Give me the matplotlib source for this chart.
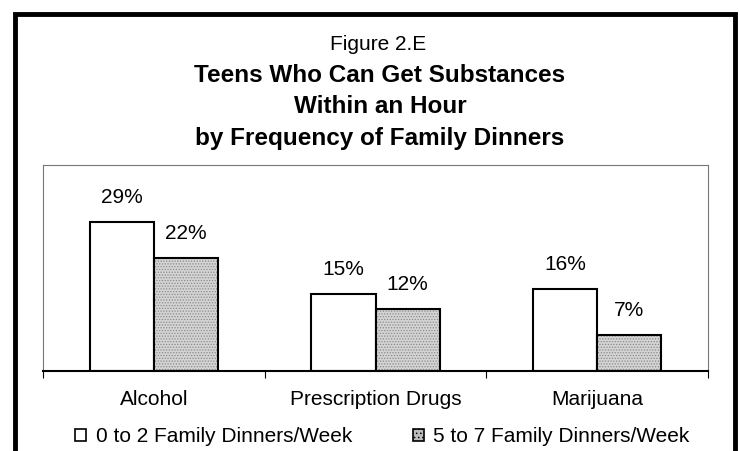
import matplotlib
matplotlib.use("Agg")
import matplotlib.pyplot as plt
import numpy as np
from matplotlib.patches import Rectangle

plt.rcParams["font.family"] = ["Liberation Sans", "DejaVu Sans"]
plt.rcParams["hatch.linewidth"] = 0.6

# Data.
categories = ["Alcohol", "Prescription Drugs", "Marijuana"]
low_dinners = [29, 15, 16]   # 0 to 2 family dinners/week
high_dinners = [22, 12, 7]   # 5 to 7 family dinners/week
series_names = ["0 to 2 Family Dinners/Week", "5 to 7 Family Dinners/Week"]
title_small = "Figure 2.E"
title_lines = [
    "Teens Who Can Get Substances",
    "Within an Hour",
    "by Frequency of Family Dinners",
]

W, H = 740, 451
fig = plt.figure(figsize=(W / 100, H / 100), dpi=100)


def fy(py):
    # pixel row from the top -> figure fraction
    return 1 - py / H


# Plot area.
ax = fig.add_axes([43 / W, fy(371), 665 / W, 206 / H])
x = np.arange(len(categories)) + 0.5
bw = 0.29

ax.bar(x - bw / 2, low_dinners, bw, color="white", edgecolor="black",
       linewidth=1.5, label=series_names[0], zorder=2)
# stippled grey bars: hatch in grey first, then a black outline on top
ax.bar(x + bw / 2, high_dinners, bw, color="#d4d4d4", edgecolor="#8a8a8a",
       hatch="......", linewidth=0, zorder=2)
ax.bar(x + bw / 2, high_dinners, bw, fill=False, edgecolor="black",
       linewidth=1.5, zorder=3)

for xi, v in zip(x - bw / 2, low_dinners):
    ax.annotate(f"{v}%", (xi, v), xytext=(0, 13.5), textcoords="offset points",
                ha="center", va="baseline", fontsize=15)
for xi, v in zip(x + bw / 2, high_dinners):
    ax.annotate(f"{v}%", (xi, v), xytext=(0, 13.5), textcoords="offset points",
                ha="center", va="baseline", fontsize=15)

ax.set_xlim(0, len(categories))
ax.set_ylim(0, 40)
ax.set_yticks([])
ax.set_xticks(x)
ax.set_xticklabels(categories, fontsize=15)
ax.tick_params(axis="x", which="major", length=0, pad=14)
ax.set_xticks(np.arange(len(categories) + 1), minor=True)
ax.tick_params(axis="x", which="minor", length=5, width=0.8, direction="out")

for side in ["left", "top", "right"]:
    ax.spines[side].set_color("#777777")
    ax.spines[side].set_linestyle((0, (1.5, 1)))
    ax.spines[side].set_linewidth(0.8)
ax.spines["bottom"].set_linewidth(1.5)

# Legend beneath the category labels.
h1 = Rectangle((0, 0), 1, 1, facecolor="white", edgecolor="black", linewidth=1.2)
h2 = Rectangle((0, 0), 1, 1, facecolor="#bdbdbd", edgecolor="black",
               linewidth=1.2, hatch="....")
fig.legend([h1, h2], series_names, loc="center left",
           bbox_to_anchor=(75 / W, fy(437)), ncol=2, frameon=False,
           fontsize=15, handlelength=0.55, handleheight=0.55,
           handletextpad=0.45, columnspacing=2.9, borderpad=0, borderaxespad=0)

# Titles.
fig.text(378 / W, fy(50), title_small, ha="center", va="baseline", fontsize=15)
for py, line in zip([82, 113, 145], title_lines):
    fig.text(380 / W, fy(py), line, ha="center", va="baseline",
             fontsize=17.5, fontweight="bold")

# Thick outer frame (open at the bottom, like the cropped scan).
fig.patches.append(Rectangle((14.5 / W, -0.1), 720.5 / W, fy(14) + 0.1,
                             transform=fig.transFigure, fill=False,
                             edgecolor="black", linewidth=3.5))

fig.savefig("out.png", dpi=100)
